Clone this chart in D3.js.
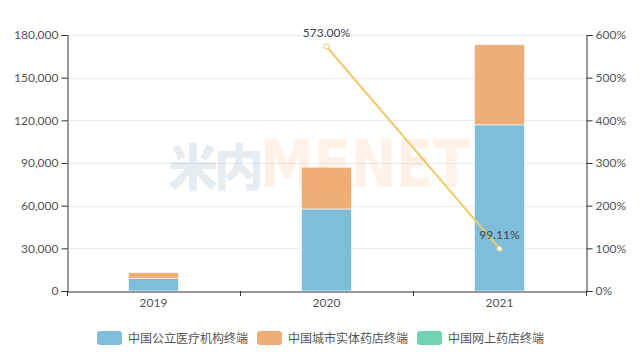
<!DOCTYPE html>
<html><head><meta charset="utf-8">
<script src="https://cdnjs.cloudflare.com/ajax/libs/d3/7.8.5/d3.min.js"></script>
<style>
html,body{margin:0;padding:0;background:#fff;}
svg{display:block;font-family:"Noto Sans CJK SC","Noto Sans",sans-serif;}
</style></head>
<body><svg id="c" width="643" height="362"></svg>
<script>
const categories = ["2019", "2020", "2021"];
const seriesNames = ["中国公立医疗机构终端", "中国城市实体药店终端", "中国网上药店终端"];
const publicValues = [8900, 57700, 116900];
const retailValues = [4050, 29300, 56300];
const onlineValues = [0, 0, 0];
const growthValues = [null, 573.00, 99.11];
const leftTicks = [0, 30000, 60000, 90000, 120000, 150000, 180000];
const rightTicks = [0, 100, 200, 300, 400, 500, 600];
const colors = ["#7EBEDB", "#EEAD74", "#72D3B4"];
const lineColor = "#F0CB6C";

const svg = d3.select("#c");
const m = {l: 67, r: 586, t: 35, b: 291};

const x = d3.scaleBand().domain(categories).range([m.l, m.r]);
const yL = d3.scaleLinear().domain([0, 180000]).range([m.b, m.t]);
const yR = d3.scaleLinear().domain([0, 600]).range([m.b, m.t]);

// grid
svg.append("g").selectAll("line").data(leftTicks.slice(1)).join("line")
  .attr("x1", m.l).attr("x2", m.r)
  .attr("y1", d => Math.round(yL(d)) + 0.5).attr("y2", d => Math.round(yL(d)) + 0.5)
  .attr("stroke", "#EBEBEB").attr("stroke-width", 1);

// stacked bars
const rows = categories.map((c, i) => ({cat: c, a: publicValues[i], b: retailValues[i], c2: onlineValues[i]}));
const stack = d3.stack().keys(["a", "b", "c2"])(rows);
const bw = 50;
svg.append("g").selectAll("g").data(stack).join("g")
  .attr("fill", (d, i) => colors[i])
  .selectAll("rect").data(d => d).join("rect")
  .attr("x", d => x(d.data.cat) + x.bandwidth() / 2 - bw / 2)
  .attr("width", bw)
  .attr("y", d => yL(d[1]))
  .attr("height", d => Math.max(0, yL(d[0]) - yL(d[1])))
  .attr("stroke", "rgba(255,255,255,0.6)").attr("stroke-width", 1);

// watermark
const wm = svg.append("g").attr("font-weight", "900").attr("font-family", "'DejaVu Sans','Noto Sans CJK SC',sans-serif");
wm.append("text").attr("x", 168).attr("y", 186).attr("font-size", 50)
  .attr("font-family", "'Noto Sans CJK SC',sans-serif").attr("font-weight", 900)
  .attr("fill", "#7BA3C3").attr("fill-opacity", 0.2).attr("letter-spacing", -4).text("米内");
wm.append("text").attr("x", 260).attr("y", 187).attr("font-size", 66)
  .attr("textLength", 210).attr("lengthAdjust", "spacingAndGlyphs")
  .attr("fill", "#F6A767").attr("fill-opacity", 0.16).text("MENET");

// axes
const axL = d3.axisLeft(yL).tickValues(leftTicks).tickSize(6).tickPadding(3).tickFormat(d3.format(","));
const gL = svg.append("g").attr("transform", `translate(${m.l + 0.5},0)`).call(axL);
const axR = d3.axisRight(yR).tickValues(rightTicks).tickSize(6).tickPadding(3).tickFormat(d => d + "%");
const gR = svg.append("g").attr("transform", `translate(${m.r + 0.5},0)`).call(axR);
const axB = d3.axisBottom(x).tickSize(0).tickPadding(7);
const gB = svg.append("g").attr("transform", `translate(0,${m.b + 0.5})`).call(axB);
// category boundary ticks
svg.append("g").selectAll("line").data(d3.range(0, categories.length + 1)).join("line")
  .attr("x1", i => Math.round(m.l + i * x.step()) + 0.5).attr("x2", i => Math.round(m.l + i * x.step()) + 0.5)
  .attr("y1", m.b).attr("y2", m.b + 5).attr("stroke", "#333");

[gL, gR, gB].forEach(g => {
  g.select(".domain").attr("stroke", "#333");
  g.selectAll(".tick line").attr("stroke", "#333");
  g.selectAll("text").attr("fill", "#555").attr("font-size", 12)
    .attr("font-family", "Lato,'Noto Sans',sans-serif");
});

// growth line
const pts = categories.map((c, i) => ({cat: c, v: growthValues[i]})).filter(d => d.v != null);
const lx = d => x(d.cat) + x.bandwidth() / 2;
svg.append("path").datum(pts)
  .attr("d", d3.line().x(lx).y(d => yR(d.v)))
  .attr("fill", "none").attr("stroke", lineColor).attr("stroke-width", 2);
svg.append("g").selectAll("circle").data(pts).join("circle")
  .attr("cx", lx).attr("cy", d => yR(d.v)).attr("r", 2.5)
  .attr("fill", "#fff").attr("stroke", lineColor).attr("stroke-width", 1);
svg.append("g").selectAll("text").data(pts).join("text")
  .attr("x", lx).attr("y", d => yR(d.v) - 10)
  .attr("text-anchor", "middle").attr("font-size", 12).attr("fill", "#444")
  .attr("font-family", "Lato,'Noto Sans',sans-serif")
  .text(d => d.v.toFixed(2) + "%");

// legend
const legX = [97, 257, 417];
const lg = svg.append("g").selectAll("g").data(seriesNames).join("g")
  .attr("transform", (d, i) => `translate(${legX[i]},331)`);
lg.append("rect").attr("width", 25).attr("height", 14).attr("rx", 3).attr("fill", (d, i) => colors[i]);
lg.append("text").attr("x", 31).attr("y", 11.5).attr("font-size", 12).attr("fill", "#555").text(d => d);
</script></body></html>
